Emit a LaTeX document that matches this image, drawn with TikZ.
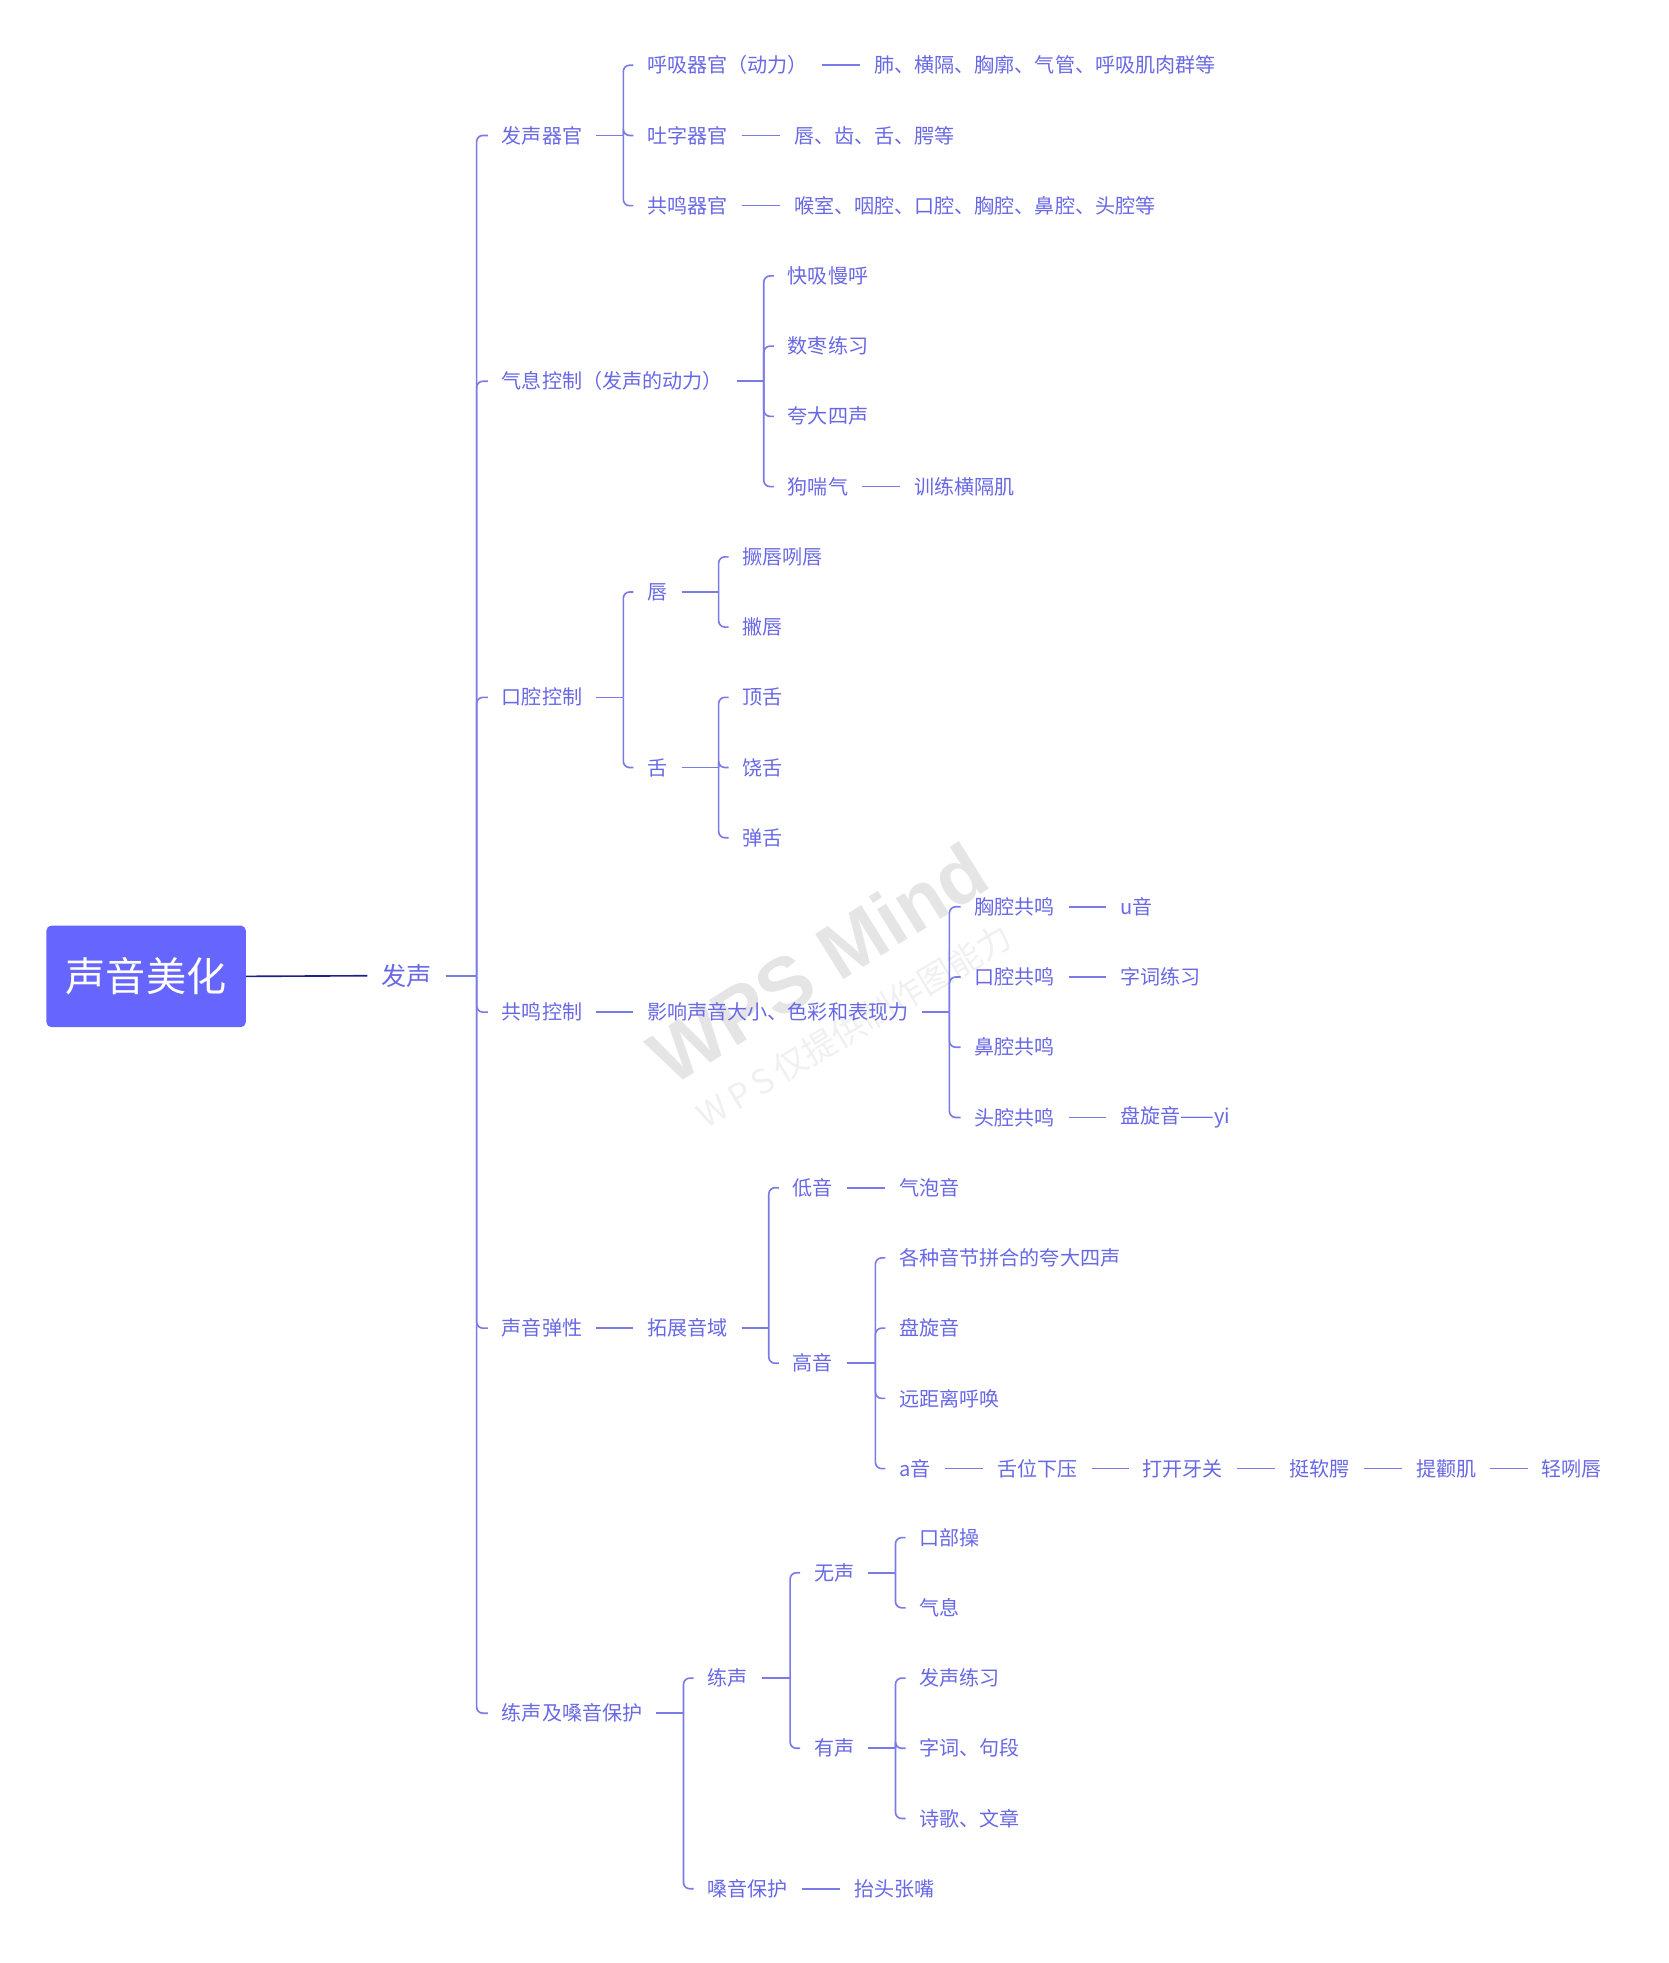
\documentclass[tikz,border=0pt]{standalone}
\usepackage{fontspec}
\newfontfamily\zh{Noto Sans CJK SC}
\newfontfamily\wmfont{Liberation Sans}

\definecolor{txtc}{RGB}{104,104,230}
\definecolor{linec}{RGB}{122,122,232}
\definecolor{rootc}{RGB}{102,102,255}
\definecolor{rootln}{RGB}{30,30,140}

\tikzset{
  topic/.style={anchor=west, inner xsep=11pt, inner ysep=3pt, text=txtc,
                font=\zh\fontsize{16}{18}\selectfont},
  link/.style={draw=linec, line width=1.3pt},
  branch/.style={link, rounded corners=5pt},
}

\begin{document}
\begin{tikzpicture}[x=1pt, y=-1pt]
    % Marco
    \useasboundingbox (0,0) rectangle (1330,1565.2);

    % Marca de agua
    \node[rotate=32, text=black!10, font=\wmfont\bfseries\fontsize{62}{70}\selectfont] (wm1) at (652,768) {WPS Mind};
    \node[rotate=31, text=black!6, font=\zh\fontsize{27}{30}\selectfont] (wm2) at (681,818) {W\,P\,S\,仅提供制作图能力};

    % Raiz
    \node[fill=rootc, rounded corners=4pt, minimum width=159pt, minimum height=81pt, text=white,
          font=\zh\fontsize{32}{36}\selectfont] (root) at (116.5,778.5) {声音美化};
    \node[topic, font=\zh\fontsize{20}{24}\selectfont] (voice) at (293,778) {发声};
    \draw[rootln, line width=1.3pt] (root.east) -- (voice.west);

    % Ramas principales
    \node[topic] (organ)  at (389,108)  {发声器官};
    \node[topic] (breath) at (389,304)  {气息控制（发声的动力）};
    \node[topic] (mouth)  at (389,556)  {口腔控制};
    \node[topic] (reson)  at (389,807)  {共鸣控制};
    \node[topic] (elast)  at (389,1059) {声音弹性};
    \node[topic] (train)  at (389,1366) {练声及嗓音保护};
    \coordinate (j-voice) at (380,778);
    \draw[link] (voice.east) -- (j-voice);
    \foreach \c in {organ,breath,mouth,reson,elast,train}
        \draw[branch] (j-voice) |- (\c.west);

    % Organos
    \node[topic] (resp)   at (505,52)  {呼吸器官（动力）};
    \node[topic] (artic)  at (505,108) {吐字器官};
    \node[topic] (resorg) at (505,164) {共鸣器官};
    \node[topic] (resp-d)   at (686,52)  {肺、横隔、胸廓、气管、呼吸肌肉群等};
    \node[topic] (artic-d)  at (622,108) {唇、齿、舌、腭等};
    \node[topic] (resorg-d) at (622,164) {喉室、咽腔、口腔、胸腔、鼻腔、头腔等};
    \coordinate (j-organ) at (497,108);
    \draw[link] (organ.east) -- (j-organ);
    \foreach \c in {resp,artic,resorg}{
        \draw[branch] (j-organ) |- (\c.west);
        \draw[link] (\c.east) -- (\c-d.west);
    }

    % Respiracion
    \node[topic] (b1) at (617,220) {快吸慢呼};
    \node[topic] (b2) at (617,276) {数枣练习};
    \node[topic] (b3) at (617,332) {夸大四声};
    \node[topic] (b4) at (617,388) {狗喘气};
    \node[topic] (b4-d) at (718,388) {训练横隔肌};
    \coordinate (j-breath) at (609,304);
    \draw[link] (breath.east) -- (j-breath);
    \foreach \c in {b1,b2,b3,b4}
        \draw[branch] (j-breath) |- (\c.west);
    \draw[link] (b4.east) -- (b4-d.west);

    % Boca
    \node[topic] (lip)    at (505,472) {唇};
    \node[topic] (tongue) at (505,612) {舌};
    \node[topic] (lip1) at (581,444) {撅唇咧唇};
    \node[topic] (lip2) at (581,500) {撇唇};
    \node[topic] (tg1)  at (581,556) {顶舌};
    \node[topic] (tg2)  at (581,612) {饶舌};
    \node[topic] (tg3)  at (581,668) {弹舌};
    \coordinate (j-mouth) at (497,556);
    \coordinate (j-lip) at (573,472);
    \coordinate (j-tongue) at (573,612);
    \draw[link] (mouth.east) -- (j-mouth);
    \draw[link] (lip.east) -- (j-lip);
    \draw[link] (tongue.east) -- (j-tongue);
    \foreach \c in {lip,tongue}
        \draw[branch] (j-mouth) |- (\c.west);
    \foreach \c in {lip1,lip2}
        \draw[branch] (j-lip) |- (\c.west);
    \foreach \c in {tg1,tg2,tg3}
        \draw[branch] (j-tongue) |- (\c.west);

    % Resonancia
    \node[topic] (effect) at (505,807) {影响声音大小、色彩和表现力};
    \draw[link] (reson.east) -- (effect.west);
    \node[topic] (ch1) at (766,723) {胸腔共鸣};
    \node[topic] (ch2) at (766,779) {口腔共鸣};
    \node[topic] (ch3) at (766,835) {鼻腔共鸣};
    \node[topic] (ch4) at (766,891) {头腔共鸣};
    \node[topic] (ch1-d) at (882,723) {u音};
    \node[topic] (ch2-d) at (882,779) {字词练习};
    \node[topic] (ch4-d) at (882,891) {盘旋音——yi};
    \coordinate (j-effect) at (757,807);
    \draw[link] (effect.east) -- (j-effect);
    \foreach \c in {ch1,ch2,ch3,ch4}
        \draw[branch] (j-effect) |- (\c.west);
    \foreach \c in {ch1,ch2,ch4}
        \draw[link] (\c.east) -- (\c-d.west);

    % Elasticidad
    \node[topic] (range) at (505,1059) {拓展音域};
    \draw[link] (elast.east) -- (range.west);
    \node[topic] (low)  at (621,947)  {低音};
    \node[topic] (high) at (621,1087) {高音};
    \node[topic] (low-d) at (706,947) {气泡音};
    \coordinate (j-range) at (613,1059);
    \draw[link] (range.east) -- (j-range);
    \foreach \c in {low,high}
        \draw[branch] (j-range) |- (\c.west);
    \draw[link] (low.east) -- (low-d.west);
    \node[topic] (h1) at (706,1003) {各种音节拼合的夸大四声};
    \node[topic] (h2) at (706,1059) {盘旋音};
    \node[topic] (h3) at (706,1115) {远距离呼唤};
    \node[topic] (h4) at (706,1171) {a音};
    \coordinate (j-high) at (698,1087);
    \draw[link] (high.east) -- (j-high);
    \foreach \c in {h1,h2,h3,h4}
        \draw[branch] (j-high) |- (\c.west);
    % cadena de la a
    \node[topic] (a1) at (784,1171)  {舌位下压};
    \node[topic] (a2) at (900,1171)  {打开牙关};
    \node[topic] (a3) at (1017,1171) {挺软腭};
    \node[topic] (a4) at (1118,1171) {提颧肌};
    \node[topic] (a5) at (1218,1171) {轻咧唇};
    \draw[link] (h4.east) -- (a1.west);
    \foreach \p/\q in {a1/a2,a2/a3,a3/a4,a4/a5}
        \draw[link] (\p.east) -- (\q.west);

    % Practica y proteccion
    \node[topic] (practice) at (553,1338) {练声};
    \node[topic] (protect)  at (553,1506) {嗓音保护};
    \node[topic] (protect-d) at (670,1506) {抬头张嘴};
    \coordinate (j-train) at (545,1366);
    \draw[link] (train.east) -- (j-train);
    \foreach \c in {practice,protect}
        \draw[branch] (j-train) |- (\c.west);
    \draw[link] (protect.east) -- (protect-d.west);
    \node[topic] (silent) at (638,1254) {无声};
    \node[topic] (voiced) at (638,1394) {有声};
    \coordinate (j-practice) at (630,1338);
    \draw[link] (practice.east) -- (j-practice);
    \foreach \c in {silent,voiced}
        \draw[branch] (j-practice) |- (\c.west);
    \node[topic] (s1) at (722,1226) {口部操};
    \node[topic] (s2) at (722,1282) {气息};
    \node[topic] (v1) at (722,1338) {发声练习};
    \node[topic] (v2) at (722,1394) {字词、句段};
    \node[topic] (v3) at (722,1450) {诗歌、文章};
    \coordinate (j-silent) at (714,1254);
    \coordinate (j-voiced) at (714,1394);
    \draw[link] (silent.east) -- (j-silent);
    \draw[link] (voiced.east) -- (j-voiced);
    \foreach \c in {s1,s2}
        \draw[branch] (j-silent) |- (\c.west);
    \foreach \c in {v1,v2,v3}
        \draw[branch] (j-voiced) |- (\c.west);
\end{tikzpicture}
\end{document}
